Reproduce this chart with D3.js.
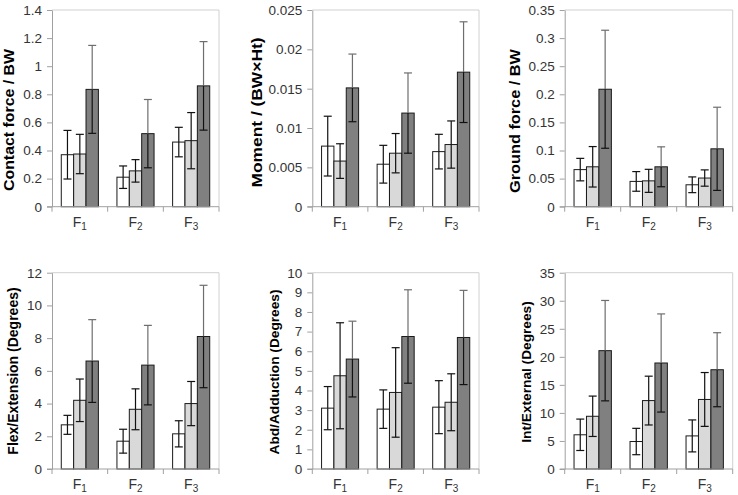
<!DOCTYPE html>
<html>
<head>
<meta charset="utf-8">
<script src="https://cdn.jsdelivr.net/npm/d3@7"></script>
<style>
  html, body { margin: 0; padding: 0; background: #fff; }
  svg { display: block; font-family: Arial, "Liberation Sans", sans-serif; }
</style>
</head>
<body>
<svg id="chart" width="738" height="495"></svg>
<script>
// ---------- DATA ----------
const categories = ["F1", "F2", "F3"];
const catBase = ["F", "F", "F"];
const catSub = ["1", "2", "3"];
const seriesNames = ["Group A", "Group B", "Group C"];
const seriesFill = ["#ffffff", "#d9d9d9", "#808080"];

// Contact force / BW
const contactMean = [[0.37, 0.21, 0.46], [0.375, 0.255, 0.47], [0.835, 0.52, 0.86]];
const contactSD   = [[0.173, 0.08, 0.105], [0.14, 0.08, 0.2], [0.313, 0.243, 0.315]];
const contactTicks = [0, 0.2, 0.4, 0.6, 0.8, 1, 1.2, 1.4];
const contactTickLabels = ["0", "0.2", "0.4", "0.6", "0.8", "1", "1.2", "1.4"];

// Moment / (BW x Ht)
const momentMean = [[0.0077, 0.0054, 0.0070], [0.0058, 0.0068, 0.0079], [0.0151, 0.0119, 0.0171]];
const momentSD   = [[0.0038, 0.0024, 0.0022], [0.0022, 0.0025, 0.0030], [0.0043, 0.0051, 0.0064]];
const momentTicks = [0, 0.005, 0.01, 0.015, 0.02, 0.025];
const momentTickLabels = ["0", "0.005", "0.01", "0.015", "0.02", "0.025"];

// Ground force / BW
const groundMean = [[0.066, 0.045, 0.039], [0.071, 0.046, 0.051], [0.209, 0.071, 0.103]];
const groundSD   = [[0.020, 0.0175, 0.014], [0.036, 0.0205, 0.0145], [0.105, 0.0355, 0.074]];
const groundTicks = [0, 0.05, 0.1, 0.15, 0.2, 0.25, 0.3, 0.35];
const groundTickLabels = ["0", "0.05", "0.1", "0.15", "0.2", "0.25", "0.3", "0.35"];

// Flex/Extension (Degrees)
const flexMean = [[2.7, 1.7, 2.15], [4.2, 3.65, 4.0], [6.6, 6.35, 8.1]];
const flexSD   = [[0.58, 0.73, 0.8], [1.3, 1.25, 1.35], [2.53, 2.43, 3.13]];
const flexTicks = [0, 2, 4, 6, 8, 10, 12];
const flexTickLabels = ["0", "2", "4", "6", "8", "10", "12"];

// Abd/Adduction (Degrees)
const abdMean = [[3.1, 3.05, 3.15], [4.75, 3.9, 3.4], [5.6, 6.75, 6.7]];
const abdSD   = [[1.1, 0.98, 1.35], [2.7, 2.28, 1.45], [1.93, 2.38, 2.4]];
const abdTicks = [0, 1, 2, 3, 4, 5, 6, 7, 8, 9, 10];
const abdTickLabels = ["0", "1", "2", "3", "4", "5", "6", "7", "8", "9", "10"];

// Int/External (Degrees)
const intMean = [[6.1, 4.9, 5.9], [9.4, 12.2, 12.4], [21.1, 18.9, 17.7]];
const intSD   = [[2.8, 2.35, 2.85], [3.6, 4.35, 4.8], [8.95, 8.75, 6.6]];
const intTicks = [0, 5, 10, 15, 20, 25, 30, 35];
const intTickLabels = ["0", "5", "10", "15", "20", "25", "30", "35"];

const panelTitles = ["Contact force / BW", "Moment / (BW\u00D7Ht)", "Ground force / BW",
                     "Flex/Extension (Degrees)", "Abd/Adduction (Degrees)", "Int/External (Degrees)"];

// ---------- LAYOUT ----------
const panels = [
  { title: panelTitles[0], mean: contactMean, sd: contactSD, ticks: contactTicks, labels: contactTickLabels,
    left: 52, right: 219, top: 10, bottom: 206.7, tx: 9, ty: 120, fs: 14, tl: 142 },
  { title: panelTitles[1], mean: momentMean, sd: momentSD, ticks: momentTicks, labels: momentTickLabels,
    left: 312.3, right: 479, top: 10, bottom: 206.7, tx: 257, ty: 112.5, fs: 14, tl: 150 },
  { title: panelTitles[2], mean: groundMean, sd: groundSD, ticks: groundTicks, labels: groundTickLabels,
    left: 564.7, right: 732.7, top: 10, bottom: 206.7, tx: 515, ty: 121, fs: 14, tl: 144 },
  { title: panelTitles[3], mean: flexMean, sd: flexSD, ticks: flexTicks, labels: flexTickLabels,
    left: 52, right: 219, top: 272.7, bottom: 469, tx: 12.5, ty: 371, fs: 14, tl: null },
  { title: panelTitles[4], mean: abdMean, sd: abdSD, ticks: abdTicks, labels: abdTickLabels,
    left: 312.3, right: 479, top: 272.7, bottom: 469, tx: 274, ty: 372, fs: 13.7, tl: null },
  { title: panelTitles[5], mean: intMean, sd: intSD, ticks: intTicks, labels: intTickLabels,
    left: 564.7, right: 732.7, top: 272.7, bottom: 469, tx: 526, ty: 372, fs: 13.7, tl: null }
];

const svg = d3.select("#chart");

panels.forEach(p => {
  const g = svg.append("g");
  const yMax = p.ticks[p.ticks.length - 1];
  const y = d3.scaleLinear().domain([0, yMax]).range([p.bottom, p.top]);
  const pad = 1.5 / 4.5;
  const x = d3.scaleBand().domain(categories).range([p.left, p.right])
    .paddingInner(pad).paddingOuter(pad / 2);
  const xs = d3.scaleBand().domain(d3.range(seriesNames.length)).range([0, x.bandwidth()]);

  // plot border (top, right)
  g.append("path")
    .attr("d", `M${p.left},${y(yMax)}H${p.right}V${p.bottom}`)
    .attr("fill", "none").attr("stroke", "#d0d0d0").attr("stroke-width", 1);

  // bars
  seriesNames.forEach((s, si) => {
    g.selectAll(null).data(categories).enter().append("rect")
      .attr("x", (c) => x(c) + xs(si))
      .attr("y", (c, ci) => y(p.mean[si][ci]))
      .attr("width", xs.bandwidth())
      .attr("height", (c, ci) => y(0) - y(p.mean[si][ci]))
      .attr("fill", seriesFill[si])
      .attr("stroke", "#1a1a1a").attr("stroke-width", 1);
  });

  // error bars
  seriesNames.forEach((s, si) => {
    categories.forEach((c, ci) => {
      const cx = x(c) + xs(si) + xs.bandwidth() / 2;
      const m = p.mean[si][ci], sd = p.sd[si][ci];
      const hi = y(m + sd), lo = y(m - sd), mid = y(m);
      const upColor = si === 2 ? "#6e6e6e" : "#111";
      g.append("line").attr("x1", cx).attr("x2", cx).attr("y1", hi).attr("y2", mid)
        .attr("stroke", upColor).attr("stroke-width", 1.2);
      g.append("line").attr("x1", cx - 4).attr("x2", cx + 4).attr("y1", hi).attr("y2", hi)
        .attr("stroke", upColor).attr("stroke-width", 1.2);
      g.append("line").attr("x1", cx).attr("x2", cx).attr("y1", mid).attr("y2", lo)
        .attr("stroke", "#111").attr("stroke-width", 1.2);
      g.append("line").attr("x1", cx - 4).attr("x2", cx + 4).attr("y1", lo).attr("y2", lo)
        .attr("stroke", "#111").attr("stroke-width", 1.2);
    });
  });

  // y axis
  const yAxis = d3.axisLeft(y).tickValues(p.ticks).tickSize(5).tickSizeOuter(0)
    .tickFormat((d, i) => p.labels[i]);
  const ya = g.append("g").attr("transform", `translate(${p.left},0)`).call(yAxis);
  ya.select(".domain").attr("stroke", "#a0a0a0");
  ya.selectAll(".tick line").attr("stroke", "#a0a0a0");
  ya.selectAll(".tick text").attr("fill", "#333").attr("font-size", "13.5px")
    .attr("font-family", "Arial, 'Liberation Sans', sans-serif").attr("x", -10);

  // x axis
  g.append("line").attr("x1", p.left - 5).attr("x2", p.right).attr("y1", y(0)).attr("y2", y(0))
    .attr("stroke", "#a0a0a0");
  const boundaries = d3.range(categories.length + 1).map(i => p.left + i * x.step());
  g.selectAll(null).data(boundaries).enter().append("line")
    .attr("x1", d => d).attr("x2", d => d).attr("y1", y(0)).attr("y2", y(0) + 5)
    .attr("stroke", "#a0a0a0");

  categories.forEach((c, ci) => {
    const t = g.append("text")
      .attr("x", x(c) + x.bandwidth() / 2)
      .attr("y", y(0) + 20)
      .attr("text-anchor", "middle")
      .attr("fill", "#333").attr("font-size", "14px");
    t.append("tspan").text(catBase[ci]);
    t.append("tspan").attr("font-size", "10px").attr("dy", 3).text(catSub[ci]);
  });

  // title
  const tt = g.append("text")
    .attr("transform", `translate(${p.tx},${p.ty}) rotate(-90)`)
    .attr("text-anchor", "middle")
    .attr("dominant-baseline", "central")
    .attr("font-weight", "bold").attr("font-size", p.fs + "px").attr("fill", "#000")
    .text(p.title);
  if (p.tl) tt.attr("textLength", p.tl).attr("lengthAdjust", "spacingAndGlyphs");
});
</script>
</body>
</html>
